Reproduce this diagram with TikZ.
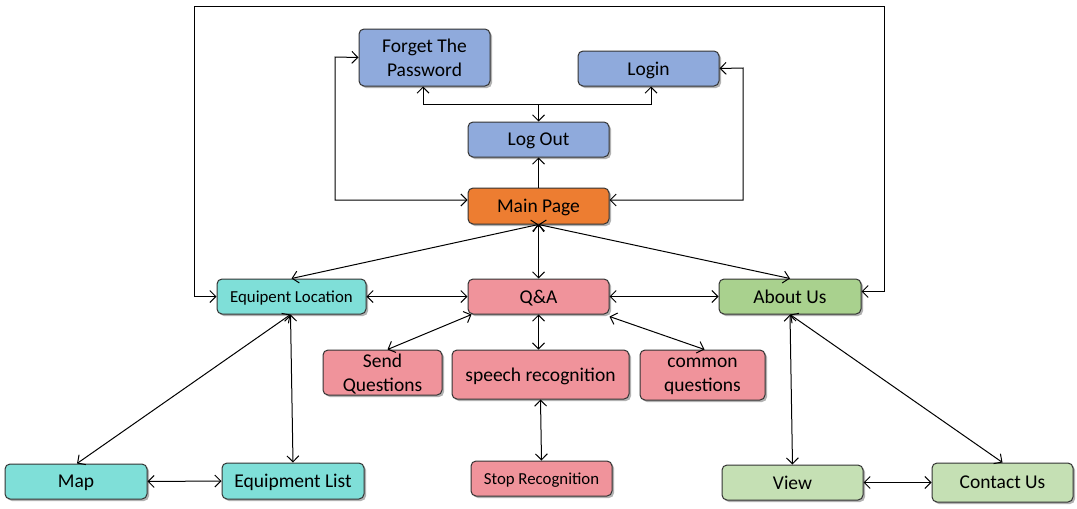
\documentclass[tikz,border=0pt]{standalone}
\usepackage{fontspec}
\setmainfont{Carlito}
\usetikzlibrary{arrows.meta,shadows}
\definecolor{cblue}{HTML}{8FAADC}
\definecolor{corange}{HTML}{ED7D31}
\definecolor{ccyan}{HTML}{7FDFD8}
\definecolor{cpink}{HTML}{F0939B}
\definecolor{cgreen}{HTML}{A9D18E}
\definecolor{clgreen}{HTML}{C5E0B4}
\tikzset{
  box/.style={draw=black!80, line width=1pt, rounded corners=5pt, align=center,
    inner sep=1pt, text depth=0pt, font=\fontsize{19.5}{24}\selectfont,
    drop shadow={shadow xshift=2pt, shadow yshift=-2pt, fill=black, opacity=0.3}},
  small/.style={font=\fontsize{16.8}{22}\selectfont},
  conn/.style={line width=1pt, black},
  >={Straight Barb[length=6pt,width=12pt]}
}
\begin{document}
\begin{tikzpicture}[x=1pt,y=-1pt]
\useasboundingbox (0,0) rectangle (1077,509);
% nodes
\node[box, fill=cblue, minimum width=131, minimum height=57] (fp) at (424.5,57.5) {Forget The\\Password};
\node[box, fill=cblue, minimum width=141, minimum height=35] (li) at (648.5,68.5) {Login};
\node[box, fill=cblue, minimum width=141, minimum height=35] (lo) at (538.5,139.5) {Log Out};
\node[box, fill=corange, minimum width=141, minimum height=36] (mp) at (538.5,206) {Main Page};
\node[box, small, fill=ccyan, minimum width=149, minimum height=35] (eq) at (291.5,296.5) {Equipent Location};
\node[box, fill=cpink, minimum width=141, minimum height=35] (qa) at (538.5,296.5) {Q\&A};
\node[box, fill=cgreen, minimum width=142, minimum height=35] (au) at (790,296.5) {About Us};
\node[box, fill=cpink, minimum width=119, minimum height=45] (sq) at (382.5,372.5) {Send\\Questions};
\node[box, fill=cpink, minimum width=177, minimum height=49] (sr) at (540.5,374.5) {speech recognition};
\node[box, fill=cpink, minimum width=125, minimum height=50] (cq) at (702.5,375) {common\\questions};
\node[box, small, fill=cpink, minimum width=141, minimum height=35] (st) at (541.5,478.5) {Stop Recognition};
\node[box, fill=ccyan, minimum width=142, minimum height=35] (map) at (76,481.5) {Map};
\node[box, fill=ccyan, minimum width=142, minimum height=36] (el) at (293,481) {Equipment List};
\node[box, fill=clgreen, minimum width=141, minimum height=35] (vw) at (792.5,482.5) {View};
\node[box, fill=clgreen, minimum width=141, minimum height=39] (ct) at (1002.5,482.5) {Contact Us};
% helper coordinates
\coordinate (tl) at (194,6);
\coordinate (tr) at (884,6);
\coordinate (fl) at (335,57);
\coordinate (lr) at (743,68);
\coordinate (fork) at (538.5,104);
% connectors
\draw[conn,<->] (eq.west) -| (tl) -- (tr) |- ([yshift=5pt]au.east);
\draw[conn,<->] ([yshift=6pt]mp.west) -| (fl) -- (fp.west);
\draw[conn,<->] ([yshift=6pt]mp.east) -| (lr) -- (li.east);
\draw[conn,->] (fork) -- (lo.north);
\draw[conn,->] (fork) -| ([xshift=-1.5pt]fp.south);
\draw[conn,->] (fork) -| ([xshift=2.5pt]li.south);
\draw[conn,->] (mp.north) -- (lo.south);
\draw[conn,<->] (mp.south) -- (eq.north);
\draw[conn,<->] (mp.south) -- (qa.north);
\draw[conn,<->] (mp.south) -- (au.north);
\draw[conn,<->] (eq.east) -- (qa.west);
\draw[conn,<->] (qa.east) -- (au.west);
\draw[conn,<->] ([xshift=4pt]qa.south west) -- ([xshift=5pt]sq.north);
\draw[conn,<->] (qa.south) -- ([xshift=-2pt]sr.north);
\draw[conn,<->] ([yshift=-2pt]qa.south east) -- ([xshift=2pt]cq.north);
\draw[conn,<->] (sr.south) -- (st.north);
\draw[conn,<->] ([xshift=-1pt]eq.south) -- ([xshift=1pt]map.north);
\draw[conn,<->] ([xshift=-1pt]eq.south) -- (el.north);
\draw[conn,<->] (map.east) -- (el.west);
\draw[conn,<->] (au.south) -- (vw.north);
\draw[conn,<->] (au.south) -- (ct.north);
\draw[conn,<->] (vw.east) -- (ct.west);
\end{tikzpicture}
\end{document}
